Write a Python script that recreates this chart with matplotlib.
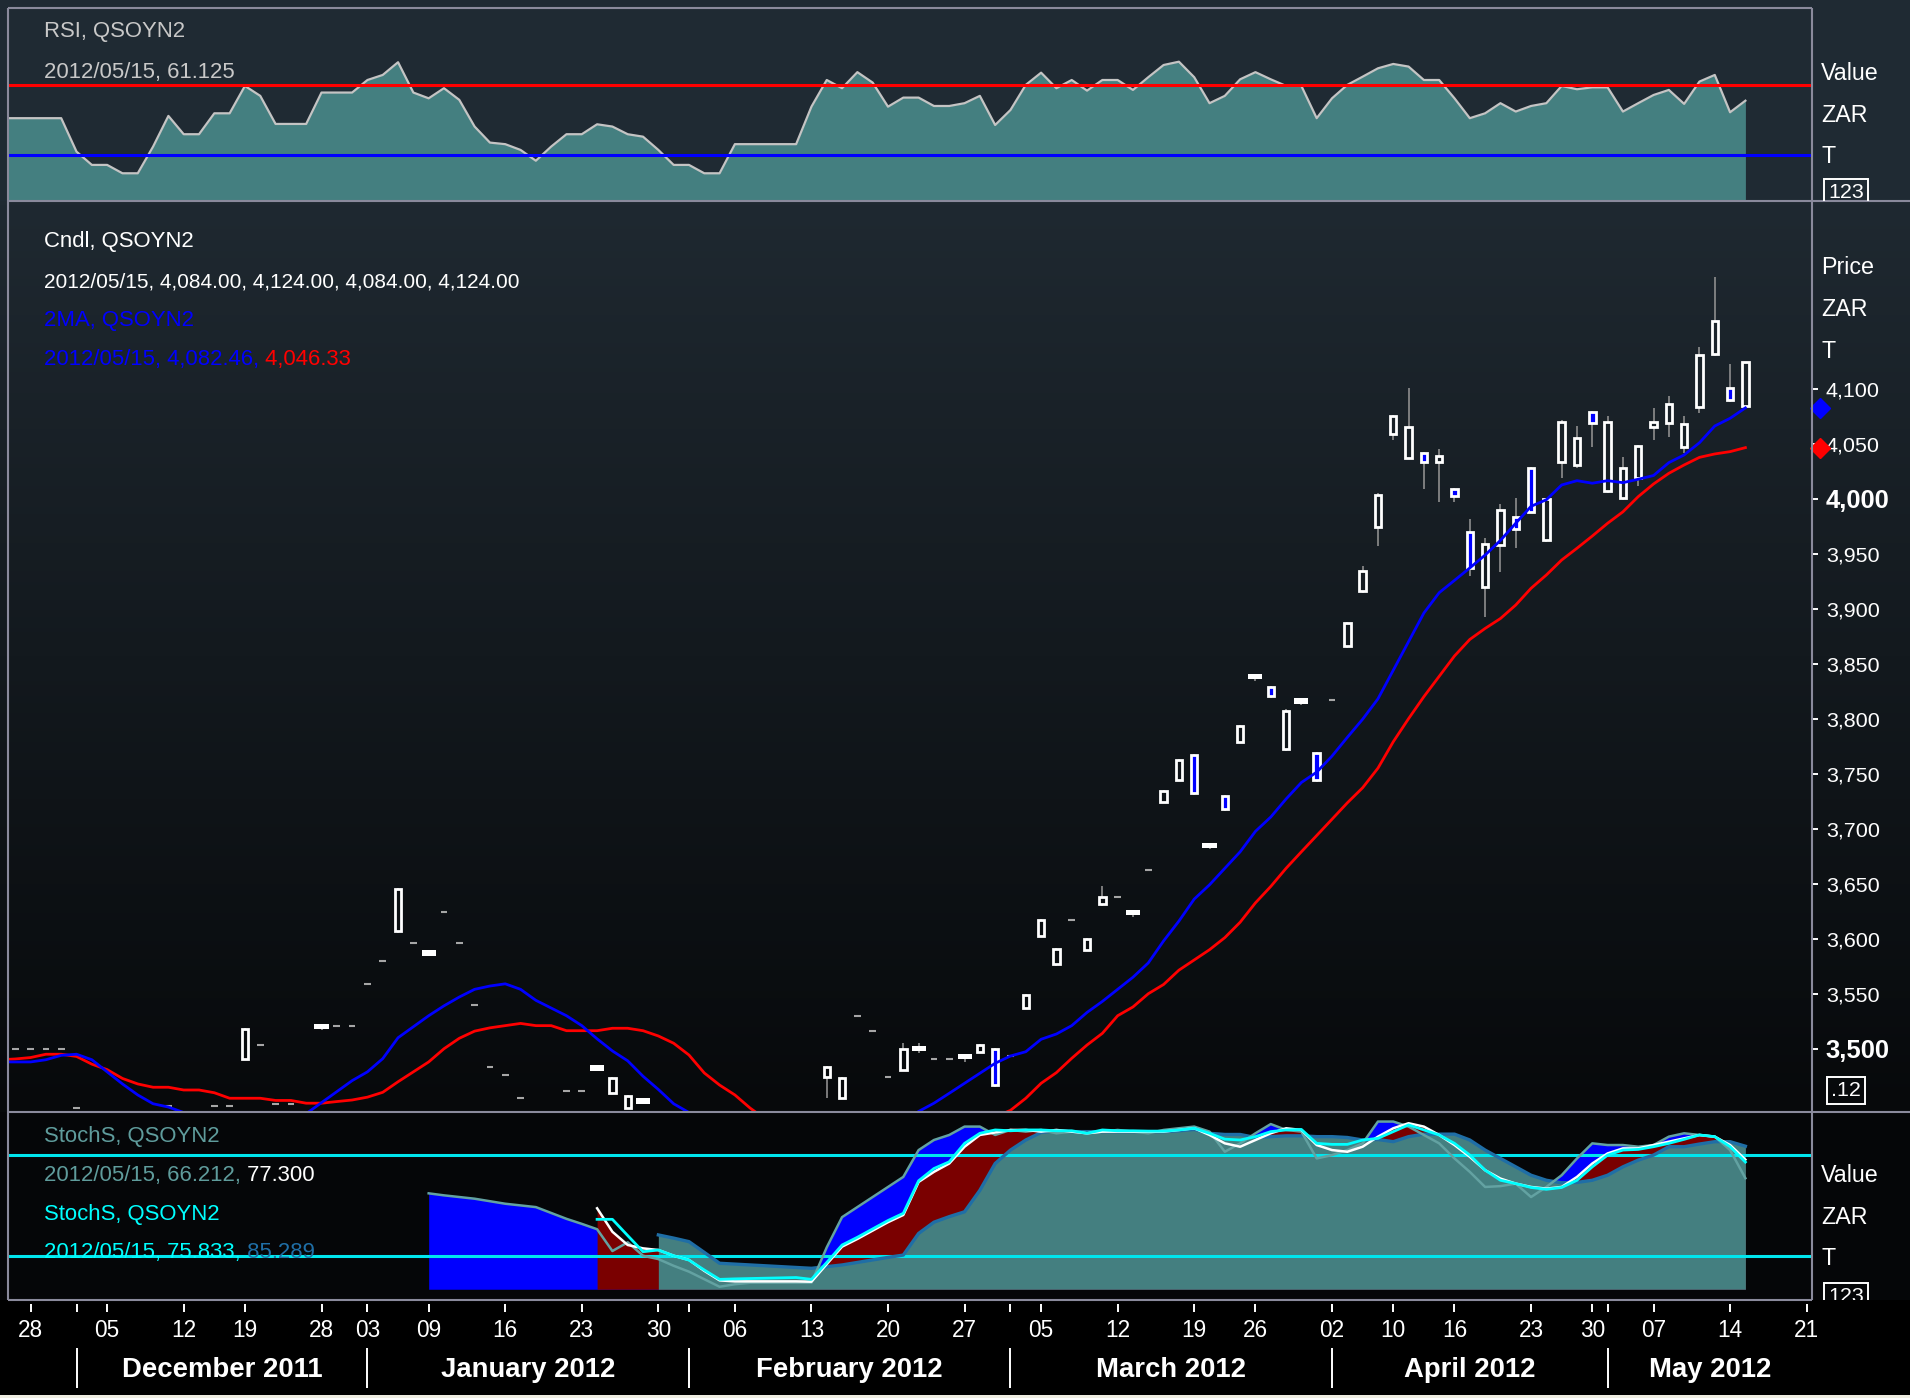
import numpy as np
import pandas as pd
import matplotlib
matplotlib.use("Agg")
import matplotlib.pyplot as plt
from matplotlib import font_manager
from matplotlib.colors import LinearSegmentedColormap
from matplotlib.patches import Rectangle
from matplotlib.transforms import blended_transform_factory

W, H = 1910, 1398

# the chart uses a narrow Arial-like face; fall back to Liberation Sans, a bit smaller
available = {f.name for f in font_manager.fontManager.ttflist}
if "Liberation Sans Narrow" in available:
    FONT, SC = "Liberation Sans Narrow", 1.0
else:
    FONT, SC = "Liberation Sans", 0.86
plt.rcParams["font.family"] = [FONT, "DejaVu Sans"]

# trading calendar (exchange holidays skipped, like the chart's x axis)
holidays = ["2011-12-16", "2011-12-26", "2011-12-27", "2012-01-02",
            "2012-03-21", "2012-04-06", "2012-04-09", "2012-04-27", "2012-05-01"]
dates = pd.bdate_range("2011-11-24", "2012-05-22", freq="C", holidays=holidays)
day = np.arange(len(dates)) - dates.get_loc(pd.Timestamp("2011-11-28"))

# ---- candles, 2011/11/24 .. 2012/05/15 ----
opens = [3500, 3500, 3500, 3500, 3500, 3446, 3438, 3432, 3428, 3430,
         3436, 3448, 3440, 3438, 3448, 3448, 3491, 3503, 3450, 3450,
         3440, 3520.5, 3521, 3521, 3559, 3580, 3607, 3596, 3587, 3624,
         3596, 3540, 3483, 3476, 3455, 3438, 3436, 3462, 3462, 3482.5,
         3460, 3446, 3452.5, 3432, 3425, 3418, 3412, 3410, 3408, 3410,
         3414, 3420, 3428, 3436, 3474, 3455, 3530, 3516, 3474, 3481,
         3500, 3490.5, 3490.5, 3493, 3497, 3499.5, 3493, 3537, 3602.5, 3577,
         3617, 3590, 3632, 3638, 3623.5, 3662, 3724.6, 3744, 3767, 3685,
         3730, 3779, 3838, 3829, 3772.5, 3816, 3769, 3817, 3865.6, 3916,
         3974, 4058.5, 4037, 4041.4, 4033.3, 4008.4, 3969.5, 3920, 3958, 3983,
         4027.6, 3962, 4033.6, 4030.6, 4079, 4007.3, 4000.3, 4018.5, 4065.4, 4069,
         4047.3, 4083, 4131.5, 4100.3, 4084]
highs = [3500, 3500, 3500, 3500, 3500, 3446, 3438, 3432, 3428, 3430,
         3436, 3448, 3440, 3438, 3448, 3448, 3519, 3503, 3450, 3450,
         3440, 3522, 3521, 3521, 3559, 3580, 3646, 3596, 3588, 3624,
         3596, 3540, 3483, 3476, 3455, 3438, 3436, 3462, 3462, 3483.5,
         3474, 3458, 3453.5, 3432, 3425, 3418, 3412, 3410, 3408, 3410,
         3414, 3420, 3428, 3436, 3484, 3474, 3530, 3516, 3474, 3505,
         3505, 3490.5, 3490.5, 3494, 3504.5, 3500.5, 3493, 3550, 3618, 3591.5,
         3617, 3601, 3648, 3638, 3624.5, 3662, 3735, 3763, 3768, 3686,
         3731, 3794, 3839, 3830, 3808.5, 3817, 3770, 3817, 3888, 3938.7,
         4005, 4076, 4100.8, 4042.5, 4045, 4009.5, 3981.3, 3964.6, 3995, 4000.3,
         4028.5, 4001, 4071, 4066, 4080, 4075, 4037.6, 4049, 4082, 4093.6,
         4075, 4138, 4201.8, 4122, 4124]
lows = [3500, 3500, 3500, 3500, 3500, 3446, 3438, 3432, 3428, 3430,
        3436, 3448, 3440, 3438, 3448, 3448, 3490, 3503, 3450, 3450,
        3440, 3517, 3521, 3521, 3559, 3580, 3605, 3596, 3584, 3624,
        3596, 3540, 3483, 3476, 3455, 3438, 3436, 3462, 3462, 3480,
        3459, 3445, 3450, 3432, 3425, 3418, 3412, 3410, 3408, 3410,
        3414, 3420, 3428, 3436, 3455, 3454, 3530, 3516, 3474, 3480,
        3496, 3490.5, 3490.5, 3488, 3496.5, 3465.5, 3493, 3536, 3602, 3575,
        3617, 3589.5, 3630, 3638, 3620, 3662, 3723.5, 3743, 3731, 3681.5,
        3716, 3778, 3834, 3819, 3771, 3812.5, 3742, 3817, 3864.5, 3914.5,
        3957, 4053.7, 4036, 4009, 3997, 3997.3, 3929.4, 3892, 3933.7, 3955,
        3986.7, 3961, 4018.5, 4027.6, 4046.7, 4005.5, 3998.8, 4011.5, 4053.3, 4055.7,
        4041.8, 4077.6, 4129.7, 4088.2, 4084]
closes = [3500, 3500, 3500, 3500, 3500, 3446, 3438, 3432, 3428, 3430,
          3436, 3448, 3440, 3438, 3448, 3448, 3518, 3503, 3450, 3450,
          3440, 3520.5, 3521, 3521, 3559, 3580, 3645, 3596, 3587, 3624,
          3596, 3540, 3483, 3476, 3455, 3438, 3436, 3462, 3462, 3482.5,
          3473, 3457, 3452.5, 3432, 3425, 3418, 3412, 3410, 3408, 3410,
          3414, 3420, 3428, 3436, 3483, 3473, 3530, 3516, 3474, 3499.5,
          3500, 3490.5, 3490.5, 3493, 3503.5, 3467, 3493, 3549, 3617, 3591,
          3617, 3600, 3637.7, 3638, 3623.5, 3662, 3734, 3762, 3732, 3685,
          3718, 3793, 3838, 3821, 3807, 3816, 3744, 3817, 3886.7, 3934,
          4003.6, 4074.8, 4065.5, 4033.3, 4038.8, 4002.5, 3936.8, 3959, 3990, 3972,
          3987.6, 4000, 4070, 4055.4, 4068.5, 4070, 4027.6, 4048, 4070, 4086,
          4067.6, 4130.6, 4161, 4089.7, 4124]

ma_fast = [3488, 3488, 3488, 3490, 3494, 3495, 3490, 3479, 3468, 3458,
           3450, 3447, 3442, 3436, 3431, 3428, 3426, 3425, 3426, 3431,
           3441, 3451, 3461, 3471, 3479, 3491, 3510, 3520, 3530, 3539,
           3547, 3554, 3557, 3559, 3554, 3544, 3537, 3530, 3521, 3509,
           3498, 3489, 3475, 3463, 3450, 3442, 3434, 3427, 3421, 3416,
           3412, 3410, 3409, 3409, 3410, 3412, 3415, 3419, 3425, 3433,
           3443, 3450.5, 3459.5, 3468.6, 3477.7, 3486.8, 3493.4, 3497.3, 3508.6, 3513.4,
           3521, 3533, 3543, 3554, 3565, 3578, 3598, 3616, 3636, 3649,
           3664, 3679, 3697.6, 3710.6, 3727, 3742, 3751.4, 3766, 3783, 3799.5,
           3818, 3844, 3870, 3896, 3914.5, 3925.7, 3937, 3948.7, 3962, 3977.6,
           3993, 3999, 4012.4, 4016.3, 4014, 4016.3, 4014.5, 4017.6, 4021, 4032.7,
           4039.7, 4050.8, 4066, 4073, 4082.46]
ma_slow = [3490, 3490.7, 3492, 3495, 3495, 3493, 3486, 3481, 3473, 3468,
           3465, 3465, 3462.5, 3462.5, 3460, 3455, 3455, 3455, 3453, 3453,
           3450.5, 3450.5, 3452, 3453.4, 3456, 3460.4, 3470, 3479, 3488, 3500,
           3509.5, 3516, 3519, 3521, 3523, 3521, 3521, 3516.4, 3516.4, 3516.4,
           3518.6, 3518.6, 3516.4, 3511.6, 3505, 3494.3, 3478, 3467, 3458, 3446,
           3436, 3430, 3425, 3420, 3416, 3413, 3411, 3410, 3410, 3411,
           3413, 3416, 3420, 3425, 3431, 3438, 3444, 3455, 3468.6, 3478.3,
           3491.3, 3503.4, 3514, 3530, 3538, 3550, 3558.4, 3571.4, 3580.7, 3590,
           3601, 3615, 3632.6, 3647.5, 3664, 3679, 3693.8, 3708.6, 3723.5, 3737.2,
           3755, 3779, 3800, 3820, 3838.5, 3857, 3872, 3882, 3891, 3903.3,
           3918.5, 3930.6, 3944.2, 3954.9, 3966, 3977.6, 3988, 4001.8, 4013.3, 4023,
           4030.6, 4037.5, 4040.6, 4042.7, 4046.33]

rsi = [51.1, 51.1, 51.1, 51.1, 51.1, 31.9, 24.3, 24.3, 19.5, 19.5,
       34.8, 52.4, 41.9, 41.9, 53.9, 53.9, 69.6, 63.9, 47.8, 47.8,
       47.8, 65.8, 65.8, 65.8, 73.0, 75.9, 83.2, 65.8, 62.5, 68.3,
       61.6, 46.3, 37.1, 36.2, 32.9, 26.7, 34.8, 41.9, 41.9, 47.6,
       46.3, 41.9, 40.5, 32.9, 24.3, 24.3, 19.5, 19.5, 36.2, 36.2,
       36.2, 36.2, 36.2, 57.7, 73.0, 68.3, 77.5, 71.5, 57.7, 62.9,
       62.9, 58.1, 58.1, 59.7, 63.9, 47.2, 55.8, 70.2, 77.2, 68.3,
       73.0, 66.9, 73.0, 73.0, 67.3, 74.6, 81.6, 83.5, 74.6, 59.7,
       63.9, 73.4, 77.5, 73.4, 69.6, 69.6, 51.1, 62.5, 70.2, 74.9,
       79.7, 82.2, 80.7, 73.0, 73.0, 62.5, 51.1, 53.9, 59.7, 54.9,
       58.1, 59.7, 69.6, 67.7, 68.8, 68.8, 54.9, 59.7, 64.4, 67.3,
       59.3, 72.1, 75.9, 54.5, 61.125]

# ---- stochastics ----
k1_start = "2012-01-09"
stoch_k1 = [57.2, 56, 55, 54, 52.5, 51, 50, 49, 45.5, 42,
            39, 35.8, 22.8, 28, 20, 18, 14, 10.5, 6, 1.5,
            3, 3.9, 3.9, 3.9, 3.9, 3.9, 25, 43, 49, 55,
            61, 67, 83, 89, 92, 97, 97, 92, 95, 94,
            95, 93, 94, 93, 94, 95, 94, 93, 95, 96,
            97, 94, 82, 87, 93, 98.5, 95, 94, 78, 80,
            83, 87, 100, 100, 97, 92, 87, 78, 70, 61,
            61.5, 63, 55, 61, 68, 78, 87, 86, 86, 85,
            86, 91, 93, 92, 91, 83, 66.212]
d1_start = "2012-01-24"
stoch_d1 = [48.3, 34.3, 26.4, 24.4, 23.4, 20, 17.5, 11, 5.3, 4.7,
            4.7, 4.7, 4.7, 4.7, 4.5, 15, 25.4, 30, 35, 40,
            44.3, 64, 70, 75, 85, 92, 93.5, 95, 95, 94,
            95, 94, 93, 94, 94, 94, 94, 94, 95, 96,
            92, 87, 85, 89, 93, 96, 95, 86, 83, 82,
            85, 91, 96, 99, 97, 92, 86, 79, 71, 66,
            63, 61, 60, 61, 67, 75, 81, 84, 84, 86,
            88, 90, 92, 91, 86, 77.3]
k2_start = "2012-01-24"
stoch_k2 = [41.7, 41.7, 32, 22.4, 23.4, 20, 17.4, 11.5, 5.9, 6.2,
            6.4, 6.6, 6.8, 7, 5.9, 16, 26.4, 31, 36, 41,
            45.3, 64.7, 72, 76, 87, 93, 95, 94.5, 95, 95,
            94.5, 94.5, 93, 95, 94.5, 94.5, 94.3, 94.3, 95, 96,
            93, 89.5, 89, 91, 94, 95, 95.3, 87, 86.4, 86.4,
            89, 90, 94, 98, 95, 92, 87, 80, 71, 65,
            63, 60.7, 59.6, 60.7, 65, 73, 80, 83, 83.4, 85,
            87, 89.4, 92, 91, 85, 75.833]
d2_start = "2012-01-30"
stoch_d2 = [32.4, 30.5, 28.4, 22, 15.5, 15, 14.5, 14, 13.5, 13,
            12.5, 13.5, 14.5, 16, 17.5, 19, 20.4, 33.3, 40, 43.3,
            46.2, 59, 75, 83, 89, 93.5, 94.5, 94, 94, 94,
            94, 94, 94, 94, 94.5, 95.3, 93, 92.3, 92.3, 90.5,
            91, 91.5, 91.5, 91, 91, 90.5, 89, 89.3, 88, 91,
            92.5, 92.5, 92.5, 89, 83, 78, 73, 68, 65, 63.5,
            63.7, 65, 68, 73, 77, 80, 85, 85, 86.6, 88,
            88, 85.289]

price_ticks = list(range(3500, 4101, 50))


def xs_from(start, values):
    i0 = dates.get_loc(pd.Timestamp(start))
    return day[i0:i0 + len(values)]


xs = day[:len(closes)]
XL = (-1.476, 116.35)

fig = plt.figure(figsize=(W / 100, H / 100), dpi=100, facecolor="black")


def px_axes(x0, y0, x1, y1, z=1):
    ax = fig.add_axes([x0 / W, 1 - y1 / H, (x1 - x0) / W, (y1 - y0) / H], zorder=z)
    ax.set_facecolor("none")
    for s in ax.spines.values():
        s.set_visible(False)
    ax.set_xticks([])
    ax.set_yticks([])
    return ax


# backgrounds
bg = px_axes(0, 0, W, H, z=0)
bg.add_patch(Rectangle((0, 0), W, 201, fc="#1f2a33", ec="none"))
grad = LinearSegmentedColormap.from_list("g", ["#1f2931", "#07090b"])
bg.imshow(np.linspace(0, 1, 256).reshape(-1, 1), cmap=grad, aspect="auto",
          extent=(0, W, 1112, 201), origin="upper")
bg.add_patch(Rectangle((0, 1112), W, 188, fc="#050608", ec="none"))
bg.add_patch(Rectangle((0, 1300), W, 98, fc="#000000", ec="none"))
bg.add_patch(Rectangle((0, 1395), W, 3, fc="#efeee2", ec="none"))
bg.set_xlim(0, W)
bg.set_ylim(H, 0)

ax_rsi = px_axes(8, 8, 1812, 201, z=2)
ax_main = px_axes(8, 201, 1812, 1112, z=2)
ax_sto = px_axes(8, 1112, 1812, 1300, z=2)
ax_date = px_axes(8, 1300, 1812, 1398, z=2)
for a in (ax_rsi, ax_main, ax_sto, ax_date):
    a.set_xlim(*XL)

TEAL = "#447f80"

# RSI panel
ax_rsi.set_ylim(3.6, 114.3)
ax_rsi.fill_between(xs, rsi, 0, color=TEAL, lw=0, zorder=1)
ax_rsi.plot(xs, rsi, color="#c4c4c4", lw=1.6, zorder=2)
ax_rsi.axhline(70, color="#ff0000", lw=2.2, zorder=3)
ax_rsi.axhline(30, color="#0000ff", lw=2.2, zorder=3)

# main candle panel
ax_main.set_ylim(3442.5, 4270.5)
WICK = "#8e8e8e"
for x, o, h, l, c in zip(xs, opens, highs, lows, closes):
    if h == l:
        ax_main.plot([x - 0.22, x + 0.22], [o, o], color="#a6a6a6", lw=1.5,
                     solid_capstyle="butt", zorder=2)
    elif o == c:
        ax_main.vlines(x, l, h, color=WICK, lw=1.2, zorder=2)
        ax_main.add_patch(Rectangle((x - 0.46, o - 2.4), 0.92, 4.8, fc="white",
                                    ec="none", zorder=2))
    else:
        top, bot = max(o, c), min(o, c)
        ax_main.vlines(x, top, h, color=WICK, lw=1.2, zorder=2)
        ax_main.vlines(x, l, bot, color=WICK, lw=1.2, zorder=2)
        ax_main.add_patch(Rectangle((x - 0.21, bot), 0.42, top - bot,
                                    fc="#0000ff" if c < o else "none",
                                    ec="white", lw=2.0, zorder=2))
ax_main.plot(xs, ma_slow, color="#ff0000", lw=2.0, zorder=3)
ax_main.plot(xs, ma_fast, color="#0000ff", lw=2.0, zorder=3)

ax_main.yaxis.tick_right()
ax_main.set_yticks(price_ticks, labels=[f"{v:,}" for v in price_ticks])
ax_main.tick_params(axis="y", colors="white", length=4.5, width=1.4, pad=5.5,
                    labelsize=18 * SC, direction="out")
for t, v in zip(ax_main.get_yticklabels(), price_ticks):
    if v % 500 == 0:
        t.set_fontweight("bold")
        t.set_fontsize(21.5 * SC)
trans = blended_transform_factory(ax_main.transAxes, ax_main.transData)
ax_main.plot([1.0045], [ma_fast[-1]], marker="D", ms=10, color="#0000ff",
             transform=trans, clip_on=False, zorder=6)
ax_main.plot([1.0045], [ma_slow[-1]], marker="D", ms=10, color="#ff0000",
             transform=trans, clip_on=False, zorder=6)

# stochastics panel
ax_sto.set_ylim(-6.4, 105.7)
xk1 = xs_from(k1_start, stoch_k1)
xd1 = xs_from(d1_start, stoch_d1)
xk2 = xs_from(k2_start, stoch_k2)
xd2 = xs_from(d2_start, stoch_d2)
ax_sto.fill_between(xk1, stoch_k1, 0, color="#0000ff", lw=0, zorder=1)
ax_sto.fill_between(xd1, stoch_d1, 0, color="#7a0000", lw=0, zorder=1)
ax_sto.fill_between(xd2, stoch_d2, 0, color=TEAL, lw=0, zorder=1)
ax_sto.axhline(80, color="#00e6ee", lw=2.2, zorder=2)
ax_sto.axhline(20, color="#00e6ee", lw=2.2, zorder=2)
ax_sto.plot(xd2, stoch_d2, color="#1f6ea6", lw=2.4, zorder=3)
ax_sto.plot(xk1, stoch_k1, color="#63a2a2", lw=1.8, zorder=3)
ax_sto.plot(xd1, stoch_d1, color="white", lw=1.8, zorder=4)
ax_sto.plot(xk2, stoch_k2, color="#00ffff", lw=2.0, zorder=5)

# date axis
ax_date.set_ylim(1398, 1300)
dser = pd.Series(day, index=dates)
week_first = dser.groupby(dates.to_period("W")).head(1)
month_first = dser.groupby(dates.to_period("M")).head(1).iloc[1:]
for dt, d in week_first.items():
    if XL[0] < d < XL[1]:
        ax_date.vlines(d, 1304, 1312, color="white", lw=1.4)
        ax_date.text(d, 1337, dt.strftime("%d"), color="white", fontsize=19 * SC,
                     ha="center", va="baseline")
for d in month_first.values:
    ax_date.vlines(d, 1304, 1312, color="white", lw=1.4)
    ax_date.vlines(d, 1348, 1388, color="white", lw=1.4)
bounds = list(month_first.values) + [XL[1]]
for i, (dt, d) in enumerate(month_first.items()):
    ax_date.text((d + bounds[i + 1]) / 2, 1377, dt.strftime("%B %Y"), color="white",
                 fontsize=23 * SC, fontweight="bold", ha="center", va="baseline")

# overlay: borders and texts
ov = px_axes(0, 0, W, H, z=10)
ov.set_xlim(0, W)
ov.set_ylim(H, 0)
BORDER = "#8a8a9c"
for (xa, ya, xb, yb) in [(8, 7.5, 1812, 7.5), (8, 7.5, 8, 1300), (1812, 7.5, 1812, 1300),
                         (8, 201, W, 201), (8, 1112, W, 1112), (8, 1300, 1812, 1300)]:
    ov.plot([xa, xb], [ya, yb], color=BORDER, lw=1.5, solid_capstyle="butt")

renderer = fig.canvas.get_renderer()
LEG = 18.5 * SC


def rainbow(x, y, parts, size=LEG):
    for s, c in parts:
        t = ov.text(x, y, s, color=c, fontsize=size, ha="left", va="baseline")
        x += t.get_window_extent(renderer).width


rainbow(44, 37, [("RSI, QSOYN2", "#c8c8c8")])
rainbow(44, 78, [(f"2012/05/15, {rsi[-1]:.3f}", "#c8c8c8")])
rainbow(44, 247, [("Cndl, QSOYN2", "white")])
rainbow(44, 287, [(f"2012/05/15, {opens[-1]:,.2f}, {highs[-1]:,.2f}, "
                   f"{lows[-1]:,.2f}, {closes[-1]:,.2f}", "white")], size=17.5 * SC)
rainbow(44, 326, [("2MA, QSOYN2", "#0000ff")])
rainbow(44, 365, [(f"2012/05/15, {ma_fast[-1]:,.2f},", "#0000ff"),
                  (f" {ma_slow[-1]:,.2f}", "#ff0000")])
rainbow(44, 1142, [("StochS, QSOYN2", "#5f9c9c")])
rainbow(44, 1181, [(f"2012/05/15, {stoch_k1[-1]:.3f},", "#5f9c9c"),
                   (f" {stoch_d1[-1]:.3f}", "white")])
rainbow(44, 1220, [("StochS, QSOYN2", "#00ffff")])
rainbow(44, 1258, [(f"2012/05/15, {stoch_k2[-1]:.3f},", "#00ffff"),
                   (f" {stoch_d2[-1]:.3f}", "#1f6ea6")])

for y, s in [(80, "Value"), (122, "ZAR"), (163, "T"),
             (274, "Price"), (316, "ZAR"), (358, "T"),
             (1182, "Value"), (1224, "ZAR"), (1265, "T")]:
    ov.text(1821, y, s, color="white", fontsize=19.5 * SC, ha="left", va="baseline")

# clipped unit boxes at the right
for (y0, y1, yt, s) in [(8, 201, 183, "123"), (201, 1112, 1081, ".12"), (1112, 1300, 1287, "123")]:
    la = px_axes(1812, y0, 1910, y1, z=11)
    la.set_xlim(1812, 1910)
    la.set_ylim(y1, y0)
    la.text(1846, yt, s, color="white", fontsize=18 * SC, ha="center", va="top", clip_on=True,
            bbox=dict(boxstyle="square,pad=0.18", fc="none", ec="white", lw=1.4))

fig.savefig("out.png", dpi=100, facecolor="black")
